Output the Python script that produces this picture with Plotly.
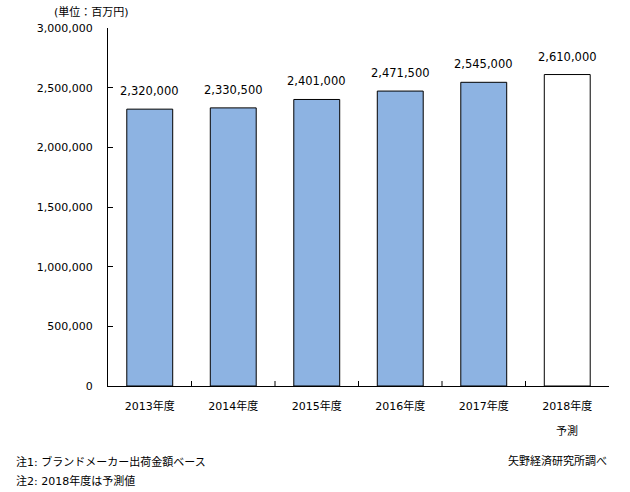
import plotly.graph_objects as go

categories = ["2013年度", "2014年度", "2015年度", "2016年度", "2017年度", "2018年度"]
values = [2320000, 2330500, 2401000, 2471500, 2545000, 2610000]
fill_colors = ["#8DB3E2", "#8DB3E2", "#8DB3E2", "#8DB3E2", "#8DB3E2", "#FFFFFF"]
y_ticks = [0, 500000, 1000000, 1500000, 2000000, 2500000, 3000000]
y_tick_labels = [f"{v:,}" for v in y_ticks]

font_fam = "DejaVu Sans, Noto Sans CJK JP, sans-serif"

fig = go.Figure()
fig.add_trace(go.Bar(
    x=categories, y=values,
    marker=dict(color=fill_colors, line=dict(color="black", width=1)),
    width=0.55,
    showlegend=False,
))

for c, v in zip(categories, values):
    fig.add_annotation(x=c, y=v, xref="x", yref="y", text=f"{v:,}",
                       showarrow=False, yanchor="bottom", yshift=9,
                       font=dict(size=11.5, color="black", family=font_fam))

fig.update_layout(
    width=630, height=492,
    margin=dict(l=108, r=21, t=28, b=106),
    paper_bgcolor="white", plot_bgcolor="white",
    font=dict(family=font_fam, size=11, color="black"),
)
fig.update_xaxes(
    showline=True, linecolor="black", linewidth=1,
    ticks="", tickfont=dict(size=11),
    ticklabelstandoff=10,
    range=[-0.5, 5.5],
    showgrid=False,
)
fig.update_yaxes(
    range=[0, 3000000],
    tickvals=y_ticks, ticktext=y_tick_labels,
    showline=True, linecolor="black", linewidth=1,
    ticks="inside", ticklen=5, tickcolor="black",
    ticklabelstandoff=12,
    showgrid=False, zeroline=False,
    tickfont=dict(size=11),
)
# category separator ticks on x-axis (inside)
for i in range(len(categories) - 1):
    fig.add_shape(type="line", xref="x", yref="paper",
                  x0=i + 0.5, x1=i + 0.5, y0=0, y1=0.014,
                  line=dict(color="black", width=1))

def pap_x(px):
    return (px - 108) / (630 - 108 - 21)

def pap_y(py):
    return (492 - 106 - py) / (492 - 28 - 106)

fig.add_annotation(x=categories[-1], xref="x", y=pap_y(431), yref="paper",
                   text="予測", showarrow=False, font=dict(size=11),
                   yanchor="middle")
fig.add_annotation(x=pap_x(131), xref="paper", y=pap_y(12), yref="paper",
                   text="(単位：百万円)", showarrow=False, xanchor="right",
                   yanchor="middle", font=dict(size=11))
fig.add_annotation(x=pap_x(14), xref="paper", y=pap_y(462), yref="paper",
                   text="注1: ブランドメーカー出荷金額ベース", showarrow=False,
                   xanchor="left", yanchor="middle", font=dict(size=11))
fig.add_annotation(x=pap_x(14), xref="paper", y=pap_y(481), yref="paper",
                   text="注2: 2018年度は予測値", showarrow=False,
                   xanchor="left", yanchor="middle", font=dict(size=11))
fig.add_annotation(x=pap_x(609), xref="paper", y=pap_y(461), yref="paper",
                   text="矢野経済研究所調べ", showarrow=False,
                   xanchor="right", yanchor="middle", font=dict(size=11))

fig.write_html("out.html")
